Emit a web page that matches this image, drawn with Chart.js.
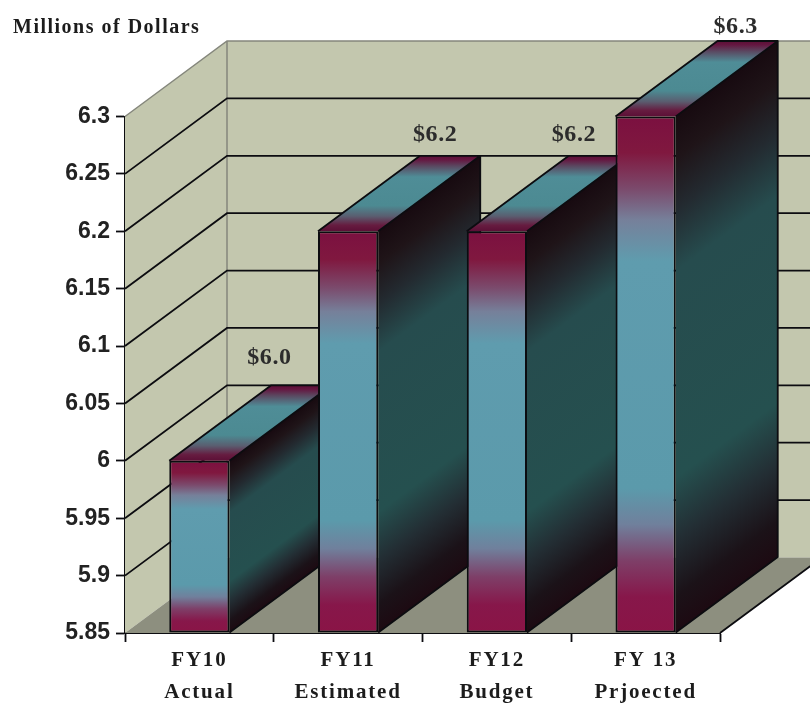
<!DOCTYPE html>
<html>
<head>
<meta charset="utf-8">
<title>Millions of Dollars</title>
<script src="https://cdn.jsdelivr.net/npm/chart.js@4"></script>
<style>
  html, body { margin: 0; padding: 0; background: #fff; }
  canvas { display: block; }
</style>
</head>
<body>
<canvas id="chart" width="810" height="704"></canvas>
<script>
// Budget figures by fiscal year
const categories = [["FY10", "Actual"], ["FY11", "Estimated"], ["FY12", "Budget"], ["FY 13", "Prjoected"]];
const values = [6.0, 6.2, 6.2, 6.3];
const valueLabels = ["$6.0", "$6.2", "$6.2", "$6.3"];
const yTicks = [5.85, 5.9, 5.95, 6, 6.05, 6.1, 6.15, 6.2, 6.25, 6.3];
const yTickLabels = ["5.85", "5.9", "5.95", "6", "6.05", "6.1", "6.15", "6.2", "6.25", "6.3"];
const unitTitle = "Millions of Dollars";
const axisFloor = 5.85;

// Extrusion of the box, and where each value caption sits relative to its bar top
const DEPTH_X = 102;
const DEPTH_Y = 75.5;
const captionShiftX = [70, 87, 77, 90];
const captionRise = [97, 90, 90, 84];

const WALL = "#c3c7ae";
const FLOOR = "#8d8f7f";
const EDGE = "#85877c";
const INK = "#0c0c10";

function stops(g, list) {
  list.forEach(([at, c]) => g.addColorStop(at, c));
  return g;
}

function fillPoly(ctx, pts, fill) {
  ctx.beginPath();
  pts.forEach(([x, y], i) => (i ? ctx.lineTo(x, y) : ctx.moveTo(x, y)));
  ctx.closePath();
  if (fill) { ctx.fillStyle = fill; ctx.fill(); }
}

function frontGradient(c) {
  const scale = c.chart.scales.y;
  const value = values[c.dataIndex];
  const top = scale ? scale.getPixelForValue(value) : NaN;
  if (!Number.isFinite(top) || !Number.isFinite(scale.bottom)) return "#5f9aac";
  return stops(c.chart.ctx.createLinearGradient(0, top, 0, scale.bottom), [
    [0, "#7b1040"], [0.07, "#80183f"], [0.14, "#7b4a6c"], [0.2, "#76809a"],
    [0.28, "#5f9cae"], [0.72, "#5b9aab"], [0.79, "#70809c"], [0.86, "#7e3f68"],
    [0.93, "#87174a"], [1, "#8a1446"]
  ]);
}

// Room behind the bars: side wall, back wall, floor and value grid
const roomPlugin = {
  id: "room",
  beforeDatasetsDraw(chart) {
    const { ctx, chartArea: a, scales } = chart;
    const far = chart.width + 20;
    ctx.save();
    fillPoly(ctx, [[a.left + DEPTH_X, a.top - DEPTH_Y], [far, a.top - DEPTH_Y],
                   [far, a.bottom - DEPTH_Y], [a.left + DEPTH_X, a.bottom - DEPTH_Y]], WALL);
    fillPoly(ctx, [[a.left, a.top], [a.left + DEPTH_X, a.top - DEPTH_Y],
                   [a.left + DEPTH_X, a.bottom - DEPTH_Y], [a.left, a.bottom]], WALL);
    fillPoly(ctx, [[a.left, a.bottom], [a.right, a.bottom],
                   [a.right + DEPTH_X, a.bottom - DEPTH_Y], [a.left + DEPTH_X, a.bottom - DEPTH_Y]], FLOOR);

    ctx.lineWidth = 1.5;
    ctx.strokeStyle = EDGE;
    ctx.beginPath();
    ctx.moveTo(a.left, a.top);
    ctx.lineTo(a.left + DEPTH_X, a.top - DEPTH_Y);
    ctx.lineTo(far, a.top - DEPTH_Y);
    ctx.moveTo(a.left + DEPTH_X, a.top - DEPTH_Y);
    ctx.lineTo(a.left + DEPTH_X, a.bottom - DEPTH_Y);
    ctx.stroke();

    ctx.lineWidth = 1.8;
    ctx.strokeStyle = INK;
    ctx.beginPath();
    yTicks.slice(1, -1).forEach((v) => {
      const y = scales.y.getPixelForValue(v);
      ctx.moveTo(a.left, y);
      ctx.lineTo(a.left + DEPTH_X, y - DEPTH_Y);
      ctx.lineTo(far, y - DEPTH_Y);
    });
    ctx.moveTo(a.right, a.bottom);
    ctx.lineTo(a.right + DEPTH_X, a.bottom - DEPTH_Y);
    ctx.stroke();
    ctx.restore();
  }
};

// Extruded top and side of each bar; the front faces come from the bar elements
const extrudePlugin = {
  id: "extrude",
  beforeDatasetsDraw(chart) {
    const { ctx } = chart;
    const bars = chart.getDatasetMeta(0).data;
    bars.forEach((bar) => {
      const left = bar.x - bar.width / 2;
      const right = bar.x + bar.width / 2;
      const top = bar.y;
      const base = bar.base;
      const h = base - top;

      // side face, shaded along the slope of the extrusion
      ctx.save();
      ctx.transform(1, -DEPTH_Y / DEPTH_X, 0, 1, right, top);
      ctx.fillStyle = stops(ctx.createLinearGradient(0, 0, 0, h), [
        [0, "#170a10"], [0.08, "#1f1418"], [0.18, "#232a30"], [0.3, "#264c4e"],
        [0.7, "#25504f"], [0.82, "#232e34"], [0.93, "#1b1218"], [1, "#1d0a12"]
      ]);
      ctx.fillRect(0, 0, DEPTH_X, h);
      ctx.restore();

      // top face, running from the front edge to the back edge
      ctx.save();
      fillPoly(ctx, [[left, top], [right, top], [right + DEPTH_X, top - DEPTH_Y], [left + DEPTH_X, top - DEPTH_Y]],
        stops(ctx.createLinearGradient(0, top, 0, top - DEPTH_Y), [
          [0, "#5c0f36"], [0.08, "#661c40"], [0.2, "#5a5e70"], [0.34, "#4c8a92"],
          [0.72, "#4f8d97"], [0.86, "#5a4a62"], [0.95, "#651640"], [1, "#5c0f36"]
        ]));
      ctx.restore();

      ctx.save();
      ctx.strokeStyle = INK;
      ctx.lineWidth = 1.8;
      ctx.lineJoin = "round";
      ctx.beginPath();
      ctx.moveTo(left, top);
      ctx.lineTo(left + DEPTH_X, top - DEPTH_Y);
      ctx.lineTo(right + DEPTH_X, top - DEPTH_Y);
      ctx.lineTo(right, top);
      ctx.moveTo(right + DEPTH_X, top - DEPTH_Y);
      ctx.lineTo(right + DEPTH_X, base - DEPTH_Y);
      ctx.lineTo(right, base);
      ctx.stroke();
      ctx.restore();
    });
  }
};

// Value captions and the unit heading
const captionPlugin = {
  id: "captions",
  afterDraw(chart) {
    const { ctx } = chart;
    ctx.save();
    ctx.fillStyle = "#2c2c2c";
    ctx.textAlign = "center";
    ctx.textBaseline = "alphabetic";
    ctx.font = 'bold 24px "Liberation Serif"';
    ctx.letterSpacing = "0.6px";
    chart.getDatasetMeta(0).data.forEach((bar, i) => {
      ctx.fillText(valueLabels[i], bar.x + captionShiftX[i], bar.y - captionRise[i]);
    });
    ctx.textAlign = "left";
    ctx.fillStyle = "#1c1c1c";
    ctx.font = 'bold 20px "Liberation Serif"';
    ctx.letterSpacing = "1.5px";
    ctx.fillText(unitTitle, 13, 33);
    ctx.restore();
  }
};

// The category labels are letter-spaced; the value axis labels are not
const spacedLabelsPlugin = {
  id: "spacedLabels",
  afterLayout(chart) {
    const scale = chart.scales.x;
    if (scale.spacedLabels) return;
    scale.spacedLabels = true;
    const draw = scale.drawLabels.bind(scale);
    scale.drawLabels = (area) => {
      chart.ctx.letterSpacing = "1.8px";
      draw(area);
      chart.ctx.letterSpacing = "0px";
    };
  }
};

new Chart(document.getElementById("chart"), {
  type: "bar",
  data: {
    labels: categories,
    datasets: [{
      data: values,
      base: axisFloor,
      backgroundColor: frontGradient,
      borderColor: INK,
      borderWidth: 2,
      borderSkipped: false,
      barPercentage: 0.405,
      categoryPercentage: 1,
      clip: false
    }]
  },
  options: {
    responsive: false,
    animation: false,
    layout: { padding: { top: 116.5, right: 90, left: 0, bottom: 0 } },
    plugins: { legend: { display: false }, tooltip: { enabled: false }, title: { display: false } },
    scales: {
      x: {
        afterFit(scale) { scale.height = 71; },
        grid: { drawOnChartArea: false, tickLength: 9, tickColor: INK, tickWidth: 1.8 },
        border: { color: INK, width: 2 },
        ticks: {
          color: "#1c1c1c",
          maxRotation: 0,
          padding: 3,
          font: { family: "Liberation Serif", weight: "bold", size: 21, lineHeight: 1.52 }
        }
      },
      y: {
        min: axisFloor,
        max: 6.3,
        afterFit(scale) { scale.width = 125; },
        afterBuildTicks(scale) { scale.ticks = yTicks.map((value) => ({ value })); },
        grid: { drawOnChartArea: false, tickLength: 9, tickColor: INK, tickWidth: 1.8 },
        border: { color: INK, width: 2 },
        ticks: {
          color: "#222222",
          padding: 6,
          font: { family: "Liberation Sans", weight: "bold", size: 23 },
          callback(value, index) { return yTickLabels[index]; }
        }
      }
    }
  },
  plugins: [roomPlugin, extrudePlugin, spacedLabelsPlugin, captionPlugin]
});
</script>
</body>
</html>
